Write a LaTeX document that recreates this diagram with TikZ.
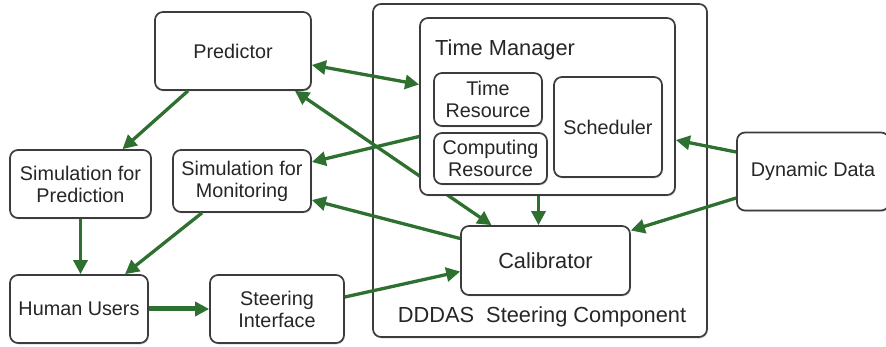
\documentclass[tikz,border=0pt]{standalone}
\usepackage{fontspec}
\setmainfont{Liberation Sans}
\usetikzlibrary{arrows.meta,shadows}
\definecolor{flowgreen}{RGB}{46,112,48}
\definecolor{boxgray}{RGB}{60,60,60}
\tikzset{
  box/.style={draw=boxgray, line width=1.7pt, rounded corners=8pt, fill=white,
    align=center, inner sep=0pt, text=black!85,
    font=\fontsize{19.8}{22}\selectfont,
    drop shadow={opacity=0.25, shadow xshift=1pt, shadow yshift=-1.5pt}},
  title/.style={inner sep=0pt, text=black!85, font=\fontsize{21.8}{24}\selectfont},
  flow/.style={draw=flowgreen, line width=3.3pt, -{Triangle[length=14pt,width=14pt]}},
  biflow/.style={flow, {Triangle[length=14pt,width=14pt]}-{Triangle[length=14pt,width=14pt]}},
}

\begin{document}
\begin{tikzpicture}[x=1pt,y=-1pt]
      \useasboundingbox (0,0) rectangle (886,347);
      % steering component frame
      \node[box, minimum width=334pt, minimum height=333pt] (dddas) at (540,170.5) {};
      \node[title] (dddaslabel) at (542,317) {DDDAS\ \ Steering Component};
      \node[box, minimum width=156pt, minimum height=78pt] (pred) at (233,51) {Predictor};
      \node[box, title, minimum width=169pt, minimum height=69pt] (calib) at (545.5,260.5) {Calibrator};
      % runs behind the time manager
      \draw[biflow] ([xshift=62pt]pred.south) -- ([xshift=-54pt]calib.north);
      \node[box, minimum width=255pt, minimum height=177pt] (tm) at (547.5,106.5) {};
      \node[title, anchor=west] (tmlabel) at (435,50) {Time Manager};
      \node[box, minimum width=108pt, minimum height=53pt] (tres) at (488,99.5) {Time\\Resource};
      \node[box, minimum width=113pt, minimum height=51pt] (cres) at (490.5,158.5) {Computing\\Resource};
      \node[box, minimum width=108pt, minimum height=100pt] (sched) at (608,127) {Scheduler};
      \node[box, minimum width=141pt, minimum height=68pt] (simpred) at (80.5,184) {Simulation for\\Prediction};
      \node[box, minimum width=138pt, minimum height=62pt] (simmon) at (242,181) {Simulation for\\Monitoring};
      \node[box, minimum width=138pt, minimum height=68pt] (users) at (79,309) {Human Users};
      \node[box, minimum width=134pt, minimum height=68pt] (steer) at (277,309) {Steering\\Interface};
      \node[box, minimum width=152pt, minimum height=78pt] (dyn) at (813,171.5) {Dynamic Data};
      % data flow
      \draw[biflow] ([yshift=-14pt]pred.east) -- ([yshift=22pt]tm.west);
      \draw[flow] ([xshift=-45pt]pred.south) -- ([xshift=42pt]simpred.north);
      \draw[flow] (simpred.south) -- (simpred.south |- users.north);
      \draw[flow] ([xshift=-40pt]simmon.south) -- ([xshift=46pt]users.north);
      \draw[flow, line width=5pt] (users) -- (steer);
      \draw[flow] ([yshift=12pt]steer.east) -- ([yshift=-11pt]calib.west);
      \draw[flow] ([yshift=-30pt]tm.west) -- ([yshift=19pt]simmon.east);
      \draw[flow] ([yshift=22pt]calib.west) -- ([yshift=-19pt]simmon.east);
      \draw[flow] ([xshift=-9pt]tm.south) -- ([xshift=-9pt]tm.south |- calib.north);
      \draw[flow] ([yshift=19.5pt]dyn.west) -- ([yshift=-33.5pt]tm.east);
      \draw[flow] ([yshift=-26.5pt]dyn.west) -- ([yshift=30pt]calib.east);
    \end{tikzpicture}
\end{document}
